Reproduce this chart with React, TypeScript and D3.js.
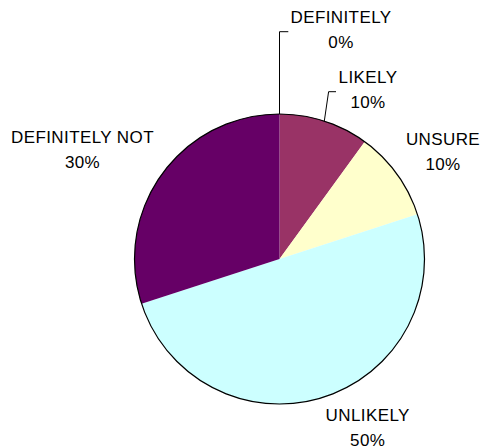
import React from "react";
import * as d3 from "d3";

const categories = ["DEFINITELY", "LIKELY", "UNSURE", "UNLIKELY", "DEFINITELY NOT"];
const values = [0, 10, 10, 50, 30];
const colors = ["#9999FF", "#993366", "#FFFFCC", "#CCFFFF", "#660066"];

// layout (not data): label anchor (center x, first baseline y)
const LABEL_LAYOUT = [
  { x: 341, y: 22.7, leader: { elbowDx: 0, elbowY: 31.7, endX: 288.3 } },
  { x: 368, y: 82.7, leader: { elbowDx: 4.3, elbowY: 91.7, endX: 336 } },
  { x: 443, y: 145 },
  { x: 367.7, y: 420.7 },
  { x: 82.5, y: 143.3 },
];

const W = 481;
const H = 447;
const CX = 279.5;
const CY = 259;
const R = 145;
const LINE = 25;

export default function App() {
  const total = d3.sum(values);
  const pie = d3
    .pie<number>()
    .sort(null)
    .value((d) => d)
    .startAngle(0)
    .endAngle(2 * Math.PI);
  const arcs = pie(values);
  const arc = d3.arc<d3.PieArcDatum<number>>().innerRadius(0).outerRadius(R);

  return (
    <svg
      width={W}
      height={H}
      style={{ position: "absolute", left: 0, top: 0, background: "#fff" }}
      fontFamily="'Liberation Sans', Arial, sans-serif"
      fontSize={17}
      letterSpacing={0.4}
    >
      <g transform={`translate(${CX},${CY})`}>
        {arcs.map((a, i) => (
          <path key={i} d={arc(a) || ""} fill={colors[i]} stroke="none" />
        ))}
        <circle r={R} fill="none" stroke="#000" strokeWidth={1.2} />
      </g>
      {arcs.map((a, i) => {
        const lay = LABEL_LAYOUT[i];
        const pct = Math.round((values[i] / total) * 100) + "%";
        let leader = null;
        if (lay.leader) {
          const mid = (a.startAngle + a.endAngle) / 2;
          const sx = CX + R * Math.sin(mid);
          const sy = CY - R * Math.cos(mid);
          const ex = sx + lay.leader.elbowDx;
          leader = (
            <polyline
              points={`${sx},${sy} ${ex},${lay.leader.elbowY} ${lay.leader.endX},${lay.leader.elbowY}`}
              fill="none"
              stroke="#000"
              strokeWidth={1}
            />
          );
        }
        return (
          <g key={"l" + i}>
            {leader}
            <text x={lay.x} y={lay.y} textAnchor="middle" fill="#000">
              {categories[i]}
            </text>
            <text x={lay.x} y={lay.y + LINE} textAnchor="middle" fill="#000">
              {pct}
            </text>
          </g>
        );
      })}
    </svg>
  );
}
